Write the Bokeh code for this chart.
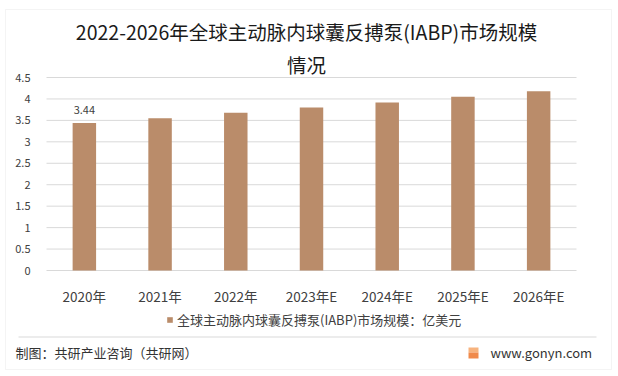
from bokeh.plotting import figure
from bokeh.models import (ColumnDataSource, FactorRange, Range1d, FixedTicker, Label,
                          BoxAnnotation, Legend, LegendItem)
from bokeh.core.properties import value
from bokeh.embed import file_html
from bokeh.resources import INLINE

years = ["2020年", "2021年", "2022年", "2023年E", "2024年E", "2025年E", "2026年E"]
values = [3.44, 3.55, 3.68, 3.80, 3.92, 4.05, 4.18]
y_ticks = [0, 0.5, 1, 1.5, 2, 2.5, 3, 3.5, 4, 4.5]
y_tick_labels = ["0", "0.5", "1", "1.5", "2", "2.5", "3", "3.5", "4", "4.5"]
title_line1 = "2022-2026年全球主动脉内球囊反搏泵(IABP)市场规模"
title_line2 = "情况"
series_name = "全球主动脉内球囊反搏泵(IABP)市场规模：亿美元"
footer_left = "制图：共研产业咨询（共研网）"
footer_right = "www.gonyn.com"
value_labels = ["3.44", "", "", "", "", "", ""]

FONT = "Noto Sans CJK SC"
BAR = "#BA8C6A"
GRID = "#D9D9D9"

W, H = 618, 376
ML = 4                      # frame starts 4px from the left edge
PLOT_L, PLOT_R = 46, 576    # category band in canvas px
PLOT_T, PLOT_B = 77, 270    # 4.5 and 0 in canvas px

unit_x = (PLOT_R - PLOT_L) / len(years)
pad = (PLOT_L - ML) / unit_x
ymax = y_ticks[-1]
unit_y = (PLOT_B - PLOT_T) / ymax
y_start = -(H - PLOT_B) / unit_y
y_end = ymax + PLOT_T / unit_y

src = ColumnDataSource(dict(x=years, top=values, lab=value_labels))
grid_src = ColumnDataSource(dict(y=y_ticks, x0=[0] * len(y_ticks),
                                 x1=[len(years)] * len(y_ticks)))

p = figure(width=W, height=H,
           x_range=FactorRange(factors=years, range_padding=pad,
                               range_padding_units="absolute"),
           y_range=Range1d(y_start, y_end),
           output_backend="svg", toolbar_location=None,
           min_border_left=ML, min_border_right=0, min_border_top=0,
           min_border_bottom=0)
p.outline_line_color = None
p.background_fill_color = "white"
p.border_fill_color = "white"
p.xgrid.grid_line_color = None
p.ygrid.grid_line_color = None

# gridlines over the category band
p.segment(x0="x0", x1="x1", y0="y", y1="y", source=grid_src,
          line_color=GRID, line_width=1, level="underlay")

r = p.vbar(x="x", top="top", width=0.31, source=src, fill_color=BAR, line_color=None)

p.text(x="x", y="top", text="lab", source=src, text_align="center",
       text_baseline="bottom", y_offset=-9, text_font_size="11px",
       text_color="#404040", text_font=value(FONT))

# axes drawn at fixed positions inside the frame
p.yaxis.fixed_location = 0
p.xaxis.fixed_location = 0
p.yaxis.ticker = FixedTicker(ticks=y_ticks)
p.yaxis.major_label_overrides = {t: l for t, l in zip(y_ticks, y_tick_labels)}
for ax in (p.xaxis[0], p.yaxis[0]):
    ax.axis_line_color = None
    ax.major_tick_line_color = None
    ax.minor_tick_line_color = None
    ax.major_label_text_font = FONT
    ax.major_label_text_color = "#404040"
p.yaxis.major_label_text_font_size = "11px"
p.yaxis.major_label_standoff = 10
p.xaxis.major_label_text_font_size = "13.5px"
p.xaxis.major_label_standoff = 9

# legend
legend = Legend(items=[LegendItem(label=series_name, renderers=[r])],
                location=(166 - ML, 47), orientation="horizontal",
                glyph_width=7, glyph_height=7, label_standoff=4,
                padding=0, margin=0, border_line_color=None,
                background_fill_alpha=0,
                label_text_font=FONT, label_text_font_size="13px",
                label_text_color="#404040")
p.add_layout(legend, "center")


def box(l, r_, t, b, **kw):
    p.add_layout(BoxAnnotation(left=l - ML, right=r_ - ML, top=H - t, bottom=H - b,
                               left_units="screen", right_units="screen",
                               top_units="screen", bottom_units="screen", **kw))


# outer border, separator, logo
box(5, 611, 9, 369, fill_alpha=0, line_color=GRID, line_width=1)
box(18, 596, 336, 337, fill_color=GRID, fill_alpha=1, line_color=None)
box(468, 478, 347, 352, fill_color="#F7B37E", fill_alpha=1, line_color=None)
box(468, 478, 352, 358, fill_color="#F08A4B", fill_alpha=1, line_color=None)


def lab(x, y, text, size, align="left", color="#262626"):
    p.add_layout(Label(x=x - ML, y=H - y, x_units="screen", y_units="screen", text=text,
                       text_font=FONT, text_font_size=size, text_color=color,
                       text_align=align, text_baseline="middle"))


lab(306, 31, title_line1, "19.5px", "center", "#1a1a1a")
lab(306, 64, title_line2, "19.5px", "center", "#1a1a1a")
lab(15, 352, footer_left, "13px", "left", "#333333")
lab(490, 352, footer_right, "13px", "left", "#333333")

open("out.html", "w").write(file_html(p, INLINE))
